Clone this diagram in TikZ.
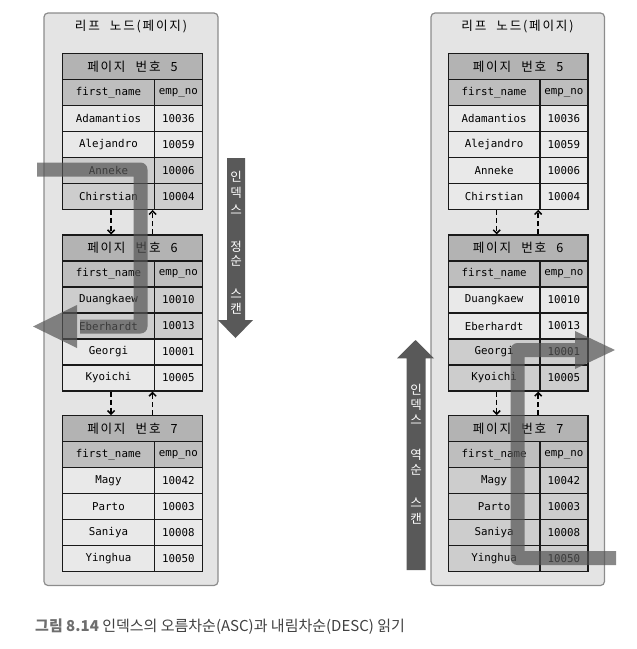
\documentclass[tikz,border=0pt]{standalone}
\usepackage{fontspec}
\newfontfamily\mono{DejaVu Sans Mono}
\newfontfamily\kr[LetterSpace=14,WordSpace=2.2]{Noto Sans CJK KR}
\newfontfamily\krplain{Noto Sans CJK KR}
\usetikzlibrary{arrows.meta}
\definecolor{bgbox}{HTML}{E4E4E4}
\definecolor{boxline}{HTML}{8C8C8C}
\definecolor{hdrfill}{HTML}{B3B3B3}
\definecolor{colfill}{HTML}{BEBEBE}
\definecolor{lite}{HTML}{E9E9E9}
\definecolor{hi}{HTML}{CDCDCD}
\definecolor{scan}{HTML}{555555}
\definecolor{bigarrow}{HTML}{595959}
\definecolor{capgray}{HTML}{6E6E6E}
\definecolor{captext}{HTML}{404040}
\tikzset{
 leafbox/.style={draw=boxline, fill=bgbox, line width=1.2pt, rounded corners=4pt},
 cellbase/.style={draw=black!90, line width=1.2pt, minimum height=26pt, inner sep=0pt, anchor=center},
 hdr/.style={cellbase, fill=hdrfill, minimum width=139.6pt, font=\kr\fontsize{12.6}{14}\selectfont},
 colh/.style={cellbase, fill=colfill, font=\mono\fontsize{10.8}{13}\selectfont},
 cell/.style={cellbase, font=\mono\fontsize{10.8}{13}\selectfont},
 namew/.style={minimum width=91.6pt},
 empw/.style={minimum width=48pt},
 boxtitle/.style={font=\kr\fontsize{12.6}{14}\selectfont, text=black},
 dl/.style={draw=black, line width=1.5pt, dash pattern=on 5pt off 3pt, -{Straight Barb[length=3.5pt,width=7pt]}},
 scanpath/.style={draw=scan, line width=14pt, line join=round},
 vtxt/.style={font=\krplain\fontsize{12.5}{14}\selectfont, text=white, inner sep=0pt},
}
\newcommand\pagetable[5]{%
 \node[hdr] (#1h) at (#2+69.8,#3+13) {페이지 번호 #4};
 \node[colh,namew] (#1cn) at (#2+45.8,#3+39) {first\_name};
 \node[colh,empw] (#1ce) at (#2+115.6,#3+39) {emp\_no};
 \foreach \nm/\vv/\ff [count=\i] in {#5} {
   \node[cell,namew,fill=\ff] (#1r\i) at (#2+45.8,#3+39+26*\i) {\nm};
   \node[cell,empw,fill=\ff] (#1e\i) at (#2+115.6,#3+39+26*\i) {\vv};
 }%
}
\begin{document}
\begin{tikzpicture}[x=1pt,y=-1pt]
\useasboundingbox (0,0) rectangle (637,649);
% containers
\draw[leafbox] (44,13) rectangle (218,585.5);
\draw[leafbox] (431,13) rectangle (604.5,585.5);
\node[boxtitle] (lt) at (131,27) {리프 노드(페이지)};
\node[boxtitle] (rt) at (517.5,27) {리프 노드(페이지)};
% left tables
\pagetable{La}{62.7}{53.3}{5}{Adamantios/10036/lite,Alejandro/10059/lite,Anneke/10006/hi,Chirstian/10004/hi}
\pagetable{Lb}{62.7}{235}{6}{Duangkaew/10010/hi,Eberhardt/10013/hi,Georgi/10001/lite,Kyoichi/10005/lite}
\pagetable{Lc}{62.7}{415.7}{7}{Magy/10042/lite,Parto/10003/lite,Saniya/10008/lite,Yinghua/10050/lite}
% right tables
\pagetable{Ra}{448.3}{53.3}{5}{Adamantios/10036/lite,Alejandro/10059/lite,Anneke/10006/lite,Chirstian/10004/lite}
\pagetable{Rb}{448.3}{235}{6}{Duangkaew/10010/lite,Eberhardt/10013/lite,Georgi/10001/hi,Kyoichi/10005/hi}
\pagetable{Rc}{448.3}{415.7}{7}{Magy/10042/hi,Parto/10003/hi,Saniya/10008/hi,Yinghua/10050/hi}
% page links
\foreach \p/\q in {La/Lb,Lb/Lc,Ra/Rb,Rb/Rc}{
  \draw[dl] ([xshift=49pt]\p r4.south west) -- ([xshift=49pt]\q h.north west);
  \draw[dl] ([xshift=90.5pt]\q h.north west) -- ([xshift=90.5pt]\p r4.south west);
}
% scan paths
\coordinate (ls1) at (37,169.5);
\coordinate (ls2) at (140.5,169.5);
\coordinate (ls3) at (140.5,326.5);
\coordinate (ls4) at (80,326.5);
\coordinate (lsT) at (33,326.5);
\coordinate (lsA) at (77,305);
\coordinate (lsB) at (77,348);
\begin{scope}[transparency group, opacity=0.7]
  \draw[scanpath] (ls1) -- (ls2) -- (ls3) -- (ls4);
  \fill[scan] (lsT) -- (lsA) -- (lsB) -- cycle;
\end{scope}
\coordinate (rs1) at (616,558);
\coordinate (rs2) at (517.5,558);
\coordinate (rs3) at (517.5,350);
\coordinate (rs4) at (578,350);
\coordinate (rsT) at (615,350);
\coordinate (rsA) at (575,331);
\coordinate (rsB) at (575,369);
\begin{scope}[transparency group, opacity=0.7]
  \draw[scanpath] (rs1) -- (rs2) -- (rs3) -- (rs4);
  \fill[scan] (rsT) -- (rsA) -- (rsB) -- cycle;
\end{scope}
% big direction arrows
\fill[bigarrow] (227,158) -- (245,158) -- (245,320) -- (253,320) -- (235.5,338) -- (218,320) -- (227,320) -- cycle;
\fill[bigarrow] (406.7,570) -- (425.7,570) -- (425.7,358.3) -- (434,358.3) -- (415.5,340) -- (397,358.3) -- (406.7,358.3) -- cycle;
\foreach \c/\yy [count=\k] in {인/177,덱/193,스/210,정/247,순/261,스/294,캔/309}
  \node[vtxt] (asc\k) at (236,\yy) {\c};
\foreach \c/\yy [count=\k] in {인/390,덱/405,스/420,역/455,순/470,스/503,캔/519}
  \node[vtxt] (desc\k) at (416,\yy) {\c};
% caption
\node[anchor=west, text=captext, font=\krplain\fontsize{15}{17}\selectfont, inner sep=0pt] (cap) at (35,627)
  {{\color{capgray}\bfseries 그림 8.14} 인덱스의 오름차순(ASC)과 내림차순(DESC) 읽기};
\end{tikzpicture}
\end{document}
